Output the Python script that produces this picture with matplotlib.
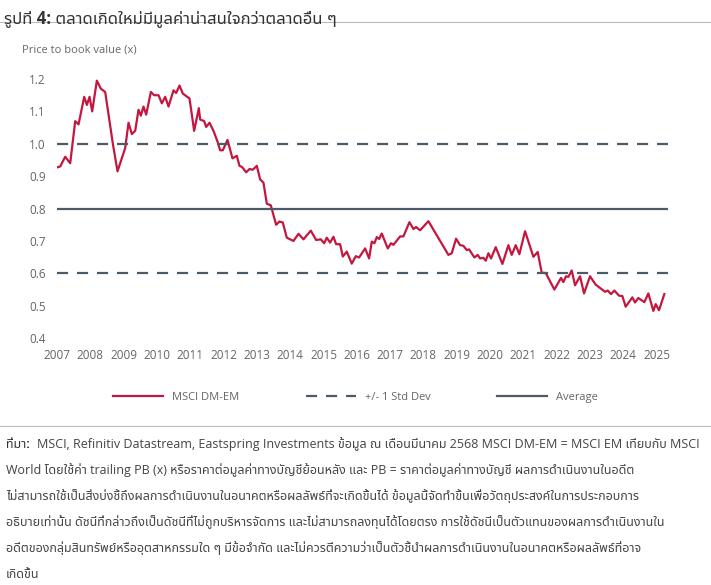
import matplotlib.pyplot as plt
from matplotlib.lines import Line2D

plt.rcParams["font.family"] = ["Open Sans", "Noto Sans Thai", "Noto Sans", "DejaVu Sans"]

# MSCI DM-EM price to book (x)
years = [2007.0, 2007.1, 2007.25, 2007.4, 2007.55, 2007.65, 2007.82, 2007.9, 2007.98, 2008.06,
         2008.2, 2008.32, 2008.45, 2008.68, 2008.82, 2009.05, 2009.15, 2009.25, 2009.35, 2009.45,
         2009.52, 2009.6, 2009.68, 2009.82, 2009.92, 2010.05, 2010.15, 2010.25, 2010.35, 2010.5,
         2010.58, 2010.68, 2010.78, 2010.98, 2011.12, 2011.26, 2011.3, 2011.42, 2011.48, 2011.58,
         2011.7, 2011.82, 2011.9, 2011.98, 2012.12, 2012.27, 2012.4, 2012.48, 2012.56, 2012.68,
         2012.78, 2012.88, 2013.0, 2013.1, 2013.2, 2013.3, 2013.42, 2013.58, 2013.68, 2013.78,
         2013.9, 2014.1, 2014.25, 2014.4, 2014.62, 2014.78, 2014.92, 2015.02, 2015.1, 2015.2,
         2015.3, 2015.38, 2015.5, 2015.58, 2015.7, 2015.85, 2015.97, 2016.07, 2016.25, 2016.37,
         2016.45, 2016.53, 2016.6, 2016.67, 2016.75, 2016.93, 2017.03, 2017.1, 2017.3, 2017.4,
         2017.58, 2017.7, 2017.78, 2017.9, 2018.15, 2018.75, 2018.85, 2018.98, 2019.1, 2019.2,
         2019.3, 2019.37, 2019.53, 2019.63, 2019.7, 2019.8, 2019.87, 2019.95, 2020.03, 2020.17,
         2020.37, 2020.55, 2020.65, 2020.77, 2020.88, 2021.05, 2021.3, 2021.43, 2021.55, 2021.67,
         2021.93, 2022.13, 2022.2, 2022.28, 2022.35, 2022.45, 2022.55, 2022.7, 2022.82, 2023.0,
         2023.17, 2023.3, 2023.45, 2023.53, 2023.63, 2023.73, 2023.87, 2023.97, 2024.07, 2024.27,
         2024.35, 2024.45, 2024.63, 2024.75, 2024.9, 2024.97, 2025.07, 2025.23]
pb = [0.927, 0.93, 0.96, 0.94, 1.07, 1.06, 1.145, 1.12, 1.145, 1.10,
      1.195, 1.17, 1.16, 1.0, 0.915, 0.987, 1.065, 1.03, 1.04, 1.105,
      1.087, 1.115, 1.09, 1.16, 1.15, 1.15, 1.125, 1.145, 1.115, 1.165,
      1.157, 1.18, 1.155, 1.14, 1.04, 1.11, 1.075, 1.07, 1.052, 1.065,
      1.04, 1.007, 0.98, 0.98, 1.012, 0.955, 0.963, 0.932, 0.928, 0.912,
      0.922, 0.92, 0.932, 0.89, 0.88, 0.815, 0.81, 0.75, 0.76, 0.757,
      0.71, 0.70, 0.722, 0.705, 0.732, 0.703, 0.705, 0.693, 0.71, 0.695,
      0.713, 0.69, 0.69, 0.652, 0.667, 0.63, 0.653, 0.649, 0.677, 0.646,
      0.698, 0.693, 0.712, 0.706, 0.723, 0.677, 0.693, 0.688, 0.714, 0.714,
      0.758, 0.737, 0.743, 0.733, 0.761, 0.657, 0.662, 0.707, 0.687, 0.685,
      0.672, 0.674, 0.649, 0.657, 0.646, 0.648, 0.639, 0.662, 0.646, 0.681,
      0.629, 0.687, 0.657, 0.687, 0.659, 0.730, 0.651, 0.666, 0.602, 0.601,
      0.550, 0.586, 0.573, 0.591, 0.589, 0.609, 0.563, 0.591, 0.538, 0.591,
      0.565, 0.555, 0.543, 0.547, 0.536, 0.547, 0.531, 0.530, 0.497, 0.526,
      0.51, 0.524, 0.511, 0.538, 0.484, 0.505, 0.486, 0.536]

average = 0.8
std_upper = 1.0
std_lower = 0.6
x_ticks = list(range(2007, 2026))
y_ticks = [0.4, 0.5, 0.6, 0.7, 0.8, 0.9, 1.0, 1.1, 1.2]

RED = "#c4173f"
SLATE = "#4b5b68"
GREY = "#666666"

fig = plt.figure(figsize=(7.11, 5.85), dpi=100)
ax = fig.add_axes([0.08, 0.422, 0.86, 0.454])

ax.plot(years, pb, color=RED, lw=1.6)
ax.axhline(std_upper, color=SLATE, lw=1.6, ls=(0, (5, 4)))
ax.axhline(std_lower, color=SLATE, lw=1.6, ls=(0, (5, 4)))
ax.axhline(average, color=SLATE, lw=1.6)

ax.set_xlim(2007, 2025.35)
ax.set_ylim(0.4, 1.22)
ax.set_xticks(x_ticks)
ax.set_yticks(y_ticks)
ax.set_yticklabels([f"{v:.1f}" for v in y_ticks])
ax.tick_params(length=0, colors=GREY, labelsize=8.5, pad=8)
for s in ax.spines.values():
    s.set_visible(False)

fig.text(0.031, 0.91, "Price to book value (x)", fontsize=8, color=GREY)

handles = [Line2D([], [], color=RED, lw=1.6),
           Line2D([], [], color=SLATE, lw=1.6, ls=(0, (5, 4))),
           Line2D([], [], color=SLATE, lw=1.6)]
fig.legend(handles, ["MSCI DM-EM", "+/- 1 Std Dev", "Average"], loc="center",
           bbox_to_anchor=(0.5, 0.32), ncol=3, frameon=False, fontsize=8,
           labelcolor=GREY, handlelength=4.5, columnspacing=6)

# title and footnote
fig.text(0.005, 0.985, "รูปที่ 4: ตลาดเกิดใหม่มีมูลค่าน่าสนใจกว่าตลาดอื่น ๆ", fontsize=12,
         fontweight="bold", color="#333333", va="top")
fig.add_artist(Line2D([0, 1], [0.962, 0.962], color="#bbbbbb", lw=0.8))
fig.add_artist(Line2D([0, 1], [0.272, 0.272], color="#bbbbbb", lw=0.8))

notes = [
    "MSCI, Refinitiv Datastream, Eastspring Investments ข้อมูล ณ เดือนมีนาคม 2568 MSCI DM-EM = MSCI EM เทียบกับ MSCI",
    "World โดยใช้ค่า trailing PB (x) หรือราคาต่อมูลค่าทางบัญชีย้อนหลัง และ PB = ราคาต่อมูลค่าทางบัญชี ผลการดำเนินงานในอดีต",
    "ไม่สามารถใช้เป็นสิ่งบ่งชี้ถึงผลการดำเนินงานในอนาคตหรือผลลัพธ์ที่จะเกิดขึ้นได้ ข้อมูลนี้จัดทำขึ้นเพื่อวัตถุประสงค์ในการประกอบการ",
    "อธิบายเท่านั้น ดัชนีที่กล่าวถึงเป็นดัชนีที่ไม่ถูกบริหารจัดการ และไม่สามารถลงทุนได้โดยตรง การใช้ดัชนีเป็นตัวแทนของผลการดำเนินงานใน",
    "อดีตของกลุ่มสินทรัพย์หรืออุตสาหกรรมใด ๆ มีข้อจำกัด และไม่ควรตีความว่าเป็นตัวชี้นำผลการดำเนินงานในอนาคตหรือผลลัพธ์ที่อาจ",
    "เกิดขึ้น",
]
y0 = 1 - 444 / 585
for i, line in enumerate(notes):
    y = y0 - i * 26 / 585
    if i == 0:
        fig.text(0.008, y, "ที่มา:", fontsize=9, fontweight="bold", color="#333333", va="center")
        fig.text(0.052, y, line, fontsize=9, color="#444444", va="center")
    else:
        fig.text(0.008, y, line, fontsize=9, color="#444444", va="center")

fig.savefig("out.png", dpi=100)
